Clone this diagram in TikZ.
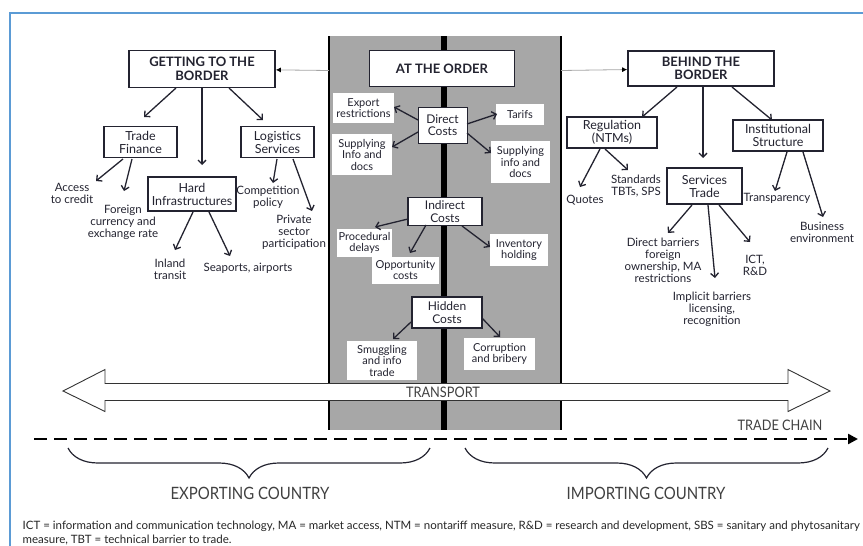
\documentclass[tikz,border=0pt]{standalone}
\usepackage{fontspec}
\setmainfont{Lato}
\newfontfamily\narrowfont[FakeStretch=0.88]{Lato}
\usetikzlibrary{arrows.meta,decorations.pathreplacing}
\definecolor{ink}{RGB}{35,35,48}
\definecolor{bandgray}{RGB}{167,167,167}
\definecolor{linkgray}{RGB}{165,165,165}
\definecolor{frameblue}{RGB}{91,155,213}

\begin{document}
\begin{tikzpicture}[->,>={Straight Barb[length=4pt,width=8pt]},line width=1.3pt,
                    x=1pt,y=-1pt,color=ink]
  \tikzstyle{title}=[draw,line width=1.6pt,fill=white,align=center,inner sep=0pt,
                     font=\bfseries\fontsize{13}{13.5}\selectfont]
  \tikzstyle{box}=[draw,line width=1.5pt,fill=white,align=center,inner sep=0pt,
                   font=\fontsize{12.5}{13}\selectfont]
  \tikzstyle{cost}=[box,font=\fontsize{12}{12.5}\selectfont]
  \tikzstyle{item}=[align=center,inner sep=1pt,font=\fontsize{11.5}{12}\selectfont]
  \tikzstyle{tag}=[fill=white,align=center,inner sep=0pt,font=\fontsize{11}{11.5}\selectfont]
  \tikzstyle{link}=[-{Latex[length=5pt,width=5pt,color=black]},line width=0.8pt,linkgray]
  \tikzstyle{big}=[font=\narrowfont\fontsize{14.5}{16}\selectfont,text=black!75]

  \useasboundingbox (0,0) rectangle (863,546);
  \draw[-,frameblue,line width=2pt] (10,546) -- (10,13) -- (863,13);

  % the order band
  \fill[bandgray] (329,36) rectangle (561,430);
  \fill[black] (441,36) rectangle (446.5,430);
  \draw[-,black,line width=1.3pt] (329,36) -- (329,430);
  \draw[-,black,line width=1.3pt] (561,36) -- (561,430);
  \coordinate (bandL) at (329,70.5);
  \coordinate (bandR) at (561,70.5);

  % getting to the border
  \node[title,minimum width=146pt,minimum height=37pt] (getting) at (202,69)   {GETTING TO THE\\BORDER};
  \node[box,minimum width=73pt,minimum height=31pt]   (tradefin) at (140.5,142) {Trade\\Finance};
  \node[box,minimum width=73pt,minimum height=31pt]   (logist)   at (277.5,142) {Logistics\\Services};
  \node[box,minimum width=88pt,minimum height=34pt]   (hardinf)  at (192,194)   {Hard\\Infrastructures};
  \node[item] (access)   at (72,193)  {Access\\to credit};
  \node[item] (foreign)  at (123,222) {Foreign\\currency and\\exchange rate};
  \node[item] (compet)   at (268,197) {Competition\\policy};
  \node[item] (private)  at (294,232) {Private\\sector\\participation};
  \node[item] (inland)   at (170,269) {Inland\\transit};
  \node[item] (seaports) at (248,268) {Seaports, airports};

  % at the order
  \node[title,minimum width=145pt,minimum height=36pt] (order) at (442,68.5) {AT THE ORDER};
  \node[cost,line width=0.9pt,minimum width=49pt,minimum height=36pt] (direct) at (442.5,125) {Direct\\Costs};
  \node[tag,minimum width=61pt,minimum height=30pt] (export) at (363.5,108) {Export\\restrictions};
  \node[tag,minimum width=48pt,minimum height=21pt] (tarifs) at (520,114.5) {Tarifs};
  \node[tag,minimum width=60pt,minimum height=41pt] (suppl)  at (362,154.5) {Supplying\\Info and\\docs};
  \node[tag,minimum width=59pt,minimum height=42pt] (suppr)  at (520.5,162) {Supplying\\info and\\docs};
  \node[cost,minimum width=74pt,minimum height=28pt] (indirect) at (445,211.5) {Indirect\\Costs};
  \node[tag,minimum width=55pt,minimum height=28pt] (proced) at (364.5,243) {Procedural\\delays};
  \node[tag,minimum width=67pt,minimum height=27pt] (opport) at (405.5,270) {Opportunity\\costs};
  \node[tag,minimum width=58pt,minimum height=32pt] (invent) at (519,250)   {Inventory\\holding};
  \node[cost,minimum width=70pt,minimum height=31pt] (hidden) at (447,312.5) {Hidden\\Costs};
  \node[tag,minimum width=70pt,minimum height=39pt] (smuggl) at (382,360.5) {Smuggling\\and info\\trade};
  \node[tag,minimum width=71pt,minimum height=32pt] (corrupt) at (499.5,354) {Corruption\\and bribery};

  % behind the border
  \node[title,minimum width=146pt,minimum height=35pt] (behind) at (701,68.5) {BEHIND THE\\BORDER};
  \node[box,minimum width=90pt,minimum height=31pt] (regul)  at (612,132.5) {Regulation\\(NTMs)};
  \node[box,minimum width=90pt,minimum height=31pt] (instit) at (778,135.5) {Institutional\\Structure};
  \node[box,minimum width=75pt,minimum height=36pt] (servic) at (704.5,186) {Services\\Trade};
  \node[item] (quotes)    at (585,200) {Quotes};
  \node[item] (standards) at (636,186) {Standards\\TBTs, SPS};
  \node[item] (transp)    at (777,198) {Transparency};
  \node[item] (business)  at (822,232) {Business\\environment};
  \node[item] (directb)   at (663,260) {Direct barriers\\foreign\\ownership, MA\\restrictions};
  \node[item] (ict)       at (755,265) {ICT,\\R\&D};
  \node[item] (implicit)  at (712,309) {Implicit barriers\\licensing,\\recognition};

  \draw[link] (bandL) -- (getting);
  \draw[link] (bandR) -- (behind);

  \draw ([xshift=-26pt,yshift=-19pt]getting.center) -- ([xshift=3.5pt,yshift=25pt]tradefin.center);
  \draw ([yshift=-19pt]getting.center) -- ([xshift=10pt,yshift=29pt]hardinf.center);
  \draw ([xshift=27pt,yshift=-19pt]getting.center) -- ([xshift=-14.5pt,yshift=22pt]logist.center);
  \draw ([xshift=-17.5pt,yshift=-17pt]tradefin.center) -- ([xshift=24pt,yshift=12pt]access.center);
  \draw ([xshift=-8.5pt,yshift=-17pt]tradefin.center) -- ([xshift=1pt,yshift=31pt]foreign.center);
  \draw ([xshift=-0.5pt,yshift=-17pt]logist.center) -- ([xshift=5pt,yshift=14pt]compet.center);
  \draw ([xshift=15.5pt,yshift=-17pt]logist.center) -- ([xshift=18pt,yshift=21pt]private.center);
  \draw ([xshift=1pt,yshift=-18pt]hardinf.center) -- ([xshift=5pt,yshift=19pt]inland.center);
  \draw ([xshift=17pt,yshift=-18pt]hardinf.center) -- ([xshift=-18pt,yshift=12pt]seaports.center);

  \draw ([xshift=-24.5pt,yshift=5pt]direct.center) -- ([xshift=30.5pt,yshift=1pt]export.center);
  \draw ([xshift=-24.5pt,yshift=-7pt]direct.center) -- ([xshift=30pt,yshift=7.5pt]suppl.center);
  \draw ([xshift=24.5pt,yshift=1pt]direct.center) -- ([xshift=-23pt,yshift=0.5pt]tarifs.center);
  \draw ([xshift=24.5pt,yshift=-8pt]direct.center) -- ([xshift=-29.5pt,yshift=9pt]suppr.center);
  \draw ([xshift=-37pt,yshift=-7.5pt]indirect.center) -- ([xshift=10.5pt,yshift=16pt]proced.center);
  \draw ([xshift=-19pt,yshift=-13.5pt]indirect.center) -- ([xshift=4.5pt,yshift=17pt]opport.center);
  \draw ([xshift=17pt,yshift=-14.5pt]indirect.center) -- ([xshift=-29pt,yshift=3pt]invent.center);
  \draw ([xshift=-36pt,yshift=-9.5pt]hidden.center) -- ([xshift=11pt,yshift=21.5pt]smuggl.center);
  \draw ([xshift=35pt,yshift=-5.5pt]hidden.center) -- ([xshift=0.5pt,yshift=17pt]corrupt.center);

  \draw ([xshift=-24pt,yshift=-18.5pt]behind.center) -- ([xshift=30pt,yshift=15.5pt]regul.center);
  \draw ([xshift=2pt,yshift=-18.5pt]behind.center) -- ([xshift=-1.5pt,yshift=28pt]servic.center);
  \draw ([xshift=31pt,yshift=-18.5pt]behind.center) -- ([xshift=-6pt,yshift=15.5pt]instit.center);
  \draw ([xshift=-12pt,yshift=-16.5pt]regul.center) -- ([xshift=-5pt,yshift=13pt]quotes.center);
  \draw ([xshift=-7pt,yshift=-16.5pt]regul.center) -- ([xshift=-8pt,yshift=16pt]standards.center);
  \draw ([xshift=9pt,yshift=-16.5pt]instit.center) -- ([xshift=-2pt,yshift=7pt]transp.center);
  \draw ([xshift=25pt,yshift=-16.5pt]instit.center) -- ([xshift=1pt,yshift=15pt]business.center);
  \draw ([xshift=-12.5pt,yshift=-19pt]servic.center) -- ([xshift=5pt,yshift=27pt]directb.center);
  \draw ([xshift=3.5pt,yshift=-19pt]servic.center) -- ([xshift=3pt,yshift=31pt]implicit.center);
  \draw ([xshift=14.5pt,yshift=-19pt]servic.center) -- ([xshift=-5pt,yshift=23pt]ict.center);

  % transport and trade chain
  \draw[-,draw=black!80,fill=white,line width=0.9pt] (63,391) -- (105,369.5) -- (105,383.5) -- (788,383.5)
       -- (788,369.5) -- (830,391) -- (788,411.5) -- (788,400.5) -- (105,400.5) -- (105,411.5) -- cycle;
  \node[big,inner sep=0pt] (transport) at (443,392) {TRANSPORT};
  \node[big] (chain) at (780,425) {TRADE CHAIN};
  \coordinate (chainL) at (34,439);
  \coordinate (chainR) at (858,439);
  \draw[-{Triangle[length=10pt,width=10pt]},black,line width=2.4pt,dash pattern=on 13pt off 7pt]
       (chainL) -- (chainR);

  \coordinate (expL) at (68,448);
  \coordinate (expR) at (430,448);
  \coordinate (impL) at (465,448);
  \coordinate (impR) at (828,448);
  \draw[-,line width=1.2pt,decorate,decoration={brace,mirror,amplitude=30pt}] (expL) -- (expR);
  \draw[-,line width=1.2pt,decorate,decoration={brace,mirror,amplitude=30pt}] (impL) -- (impR);
  \node[big,font=\narrowfont\fontsize{17}{18}\selectfont] (exporting) at (250,493) {EXPORTING COUNTRY};
  \node[big,font=\narrowfont\fontsize{17}{18}\selectfont] (importing) at (646,493) {IMPORTING COUNTRY};

  \node[anchor=north west,align=left,inner sep=0pt,text=black!85,
        font=\fontsize{11.5}{14}\selectfont] (note) at (22,520)
       {ICT = information and communication technology, MA = market access, NTM = nontariff measure, R\&D = research and development, SBS = sanitary and phytosanitary\\
        measure, TBT = technical barrier to trade.};
\end{tikzpicture}
\end{document}
